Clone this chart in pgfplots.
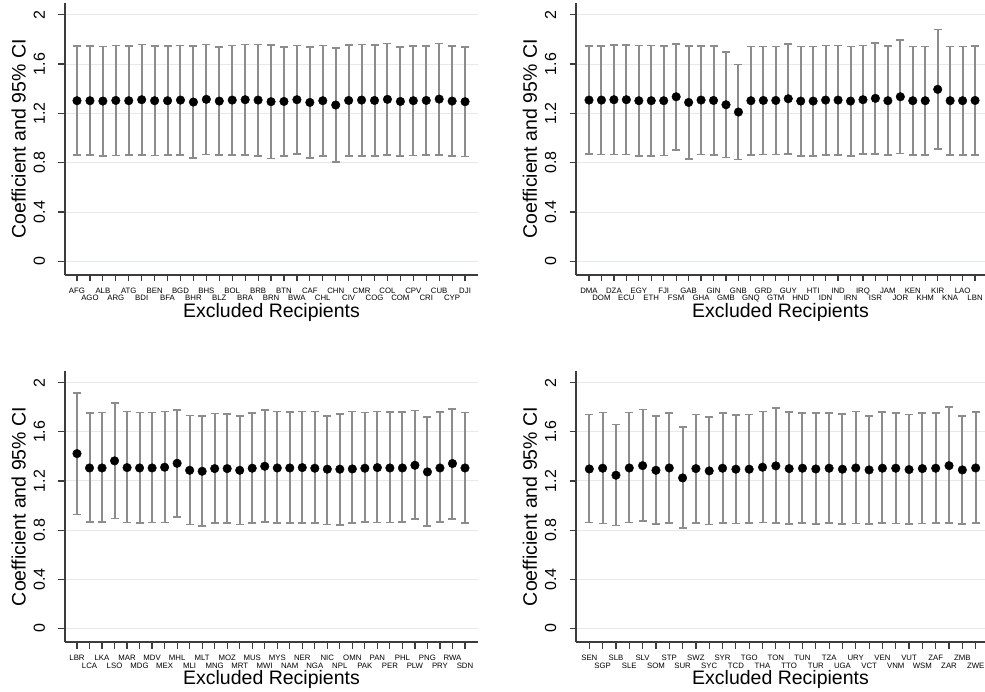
\documentclass[border=0pt]{standalone}
\usepackage{fontspec}
\setmainfont{Liberation Sans}
\usepackage{pgfplots}
\usepackage{pgfplotstable}
\pgfplotsset{compat=1.18}
\definecolor{gridc}{RGB}{226,234,237}
\definecolor{cic}{RGB}{140,140,140}
\definecolor{axc}{RGB}{60,60,60}
\newcommand\dn[1]{\raisebox{-7.7pt}{#1}}

\pgfplotstableread{
x y lo hi
1 1.303 0.862 1.744
2 1.303 0.862 1.744
3 1.300 0.857 1.743
4 1.305 0.859 1.751
5 1.303 0.862 1.744
6 1.311 0.862 1.760
7 1.303 0.859 1.747
8 1.303 0.862 1.744
9 1.308 0.865 1.751
10 1.292 0.840 1.744
11 1.314 0.868 1.760
12 1.300 0.862 1.738
13 1.308 0.865 1.751
14 1.311 0.862 1.760
15 1.308 0.857 1.759
16 1.295 0.835 1.755
17 1.297 0.854 1.740
18 1.311 0.870 1.752
19 1.289 0.840 1.738
20 1.303 0.854 1.752
21 1.268 0.808 1.728
22 1.305 0.857 1.753
23 1.308 0.857 1.759
24 1.305 0.857 1.753
25 1.314 0.862 1.766
26 1.297 0.857 1.737
27 1.303 0.859 1.747
28 1.305 0.862 1.748
29 1.316 0.865 1.767
30 1.300 0.854 1.746
31 1.295 0.851 1.739
}\tabA

\pgfplotstableread{
x y lo hi
1 1.308 0.870 1.746
2 1.308 0.868 1.748
3 1.311 0.868 1.754
4 1.311 0.868 1.754
5 1.303 0.857 1.749
6 1.303 0.857 1.749
7 1.303 0.859 1.747
8 1.335 0.905 1.765
9 1.289 0.832 1.746
10 1.308 0.868 1.748
11 1.305 0.865 1.745
12 1.270 0.843 1.697
13 1.211 0.827 1.595
14 1.303 0.865 1.741
15 1.305 0.868 1.742
16 1.305 0.868 1.742
17 1.319 0.873 1.765
18 1.300 0.857 1.743
19 1.300 0.857 1.743
20 1.308 0.865 1.751
21 1.308 0.865 1.751
22 1.300 0.857 1.743
23 1.311 0.873 1.749
24 1.322 0.873 1.771
25 1.303 0.862 1.744
26 1.335 0.876 1.794
27 1.303 0.865 1.741
28 1.303 0.865 1.741
29 1.395 0.911 1.879
30 1.303 0.865 1.741
31 1.303 0.865 1.741
32 1.305 0.865 1.745
}\tabB

\pgfplotstableread{
x y lo hi
1 1.423 0.928 1.918
2 1.306 0.866 1.755
3 1.306 0.866 1.758
4 1.364 0.896 1.834
5 1.309 0.863 1.764
6 1.306 0.860 1.758
7 1.306 0.863 1.758
8 1.312 0.863 1.766
9 1.344 0.906 1.780
10 1.287 0.847 1.734
11 1.279 0.836 1.731
12 1.301 0.857 1.750
13 1.301 0.857 1.747
14 1.287 0.847 1.728
15 1.304 0.857 1.755
16 1.320 0.868 1.780
17 1.306 0.860 1.766
18 1.306 0.860 1.761
19 1.309 0.860 1.764
20 1.304 0.860 1.764
21 1.296 0.847 1.731
22 1.296 0.844 1.744
23 1.298 0.860 1.764
24 1.304 0.866 1.758
25 1.309 0.863 1.764
26 1.306 0.863 1.761
27 1.306 0.866 1.761
28 1.328 0.893 1.774
29 1.274 0.836 1.720
30 1.306 0.866 1.761
31 1.342 0.893 1.788
32 1.306 0.860 1.758
}\tabC

\pgfplotstableread{
x y lo hi
1 1.298 0.863 1.742
2 1.304 0.855 1.758
3 1.247 0.838 1.660
4 1.306 0.863 1.758
5 1.325 0.874 1.783
6 1.287 0.852 1.731
7 1.306 0.860 1.753
8 1.225 0.819 1.638
9 1.301 0.857 1.742
10 1.282 0.847 1.723
11 1.304 0.857 1.753
12 1.296 0.855 1.739
13 1.296 0.857 1.742
14 1.312 0.863 1.764
15 1.323 0.857 1.793
16 1.301 0.852 1.761
17 1.304 0.857 1.755
18 1.298 0.852 1.753
19 1.304 0.857 1.753
20 1.296 0.852 1.747
21 1.306 0.855 1.764
22 1.290 0.852 1.731
23 1.304 0.857 1.761
24 1.304 0.855 1.755
25 1.293 0.852 1.742
26 1.301 0.855 1.753
27 1.304 0.857 1.755
28 1.325 0.857 1.804
29 1.290 0.852 1.731
30 1.306 0.857 1.761
}\tabD

\pgfplotsset{
  panel/.style={
    scale only axis, anchor=south west,
    axis lines*=left,
    axis line style={line width=1.2pt, color=axc, -},
    ymin=-0.11, ymax=2.095,
    ytick={0,0.4,0.8,1.2,1.6,2},
    yticklabels={0,0.4,0.8,1.2,1.6,2},
    ymajorgrids, grid style={gridc, line width=1pt},
    tick align=outside, major tick length=6.5pt,
    tick style={line width=1.2pt, color=axc},
    ylabel={Coefficient and 95\% CI},
    xlabel={Excluded Recipients},
    every axis y label/.style={at={(axis description cs:-0.0956,0.5)}, rotate=90, anchor=base,
      font=\fontsize{19.5}{22}\selectfont},
    every axis x label/.style={at={(axis description cs:0.5,-0.158)}, anchor=base,
      font=\fontsize{19.5}{22}\selectfont},
    yticklabel style={font=\fontsize{16}{18}\selectfont, xshift=-13.5pt, rotate=90, anchor=base},
    xticklabel style={font=\fontsize{7.8}{9}\selectfont, yshift=-11.8pt, anchor=base},
  },
  cis/.style={only marks, mark=none, forget plot,
    error bars/.cd, y dir=both, y explicit, error mark=|,
    error bar style={line width=2pt, color=cic},
    error mark options={line width=1.6pt, color=cic, mark size=4pt}},
  dots/.style={only marks, mark=*, mark size=4.3pt, mark options={fill=black, draw=black}},
}

\begin{document}
\begin{tikzpicture}[x=1pt,y=1pt]
\useasboundingbox (0,0) rectangle (985,691);

% top left
\begin{axis}[panel, at={(65pt,416pt)}, width=413pt, height=272pt,
  xmin=0.072, xmax=32.0, xtick={1,...,31},
  xticklabels={AFG,\dn{AGO},ALB,\dn{ARG},ATG,\dn{BDI},BEN,\dn{BFA},BGD,\dn{BHR},BHS,\dn{BLZ},BOL,\dn{BRA},BRB,\dn{BRN},BTN,\dn{BWA},CAF,\dn{CHL},CHN,\dn{CIV},CMR,\dn{COG},COL,\dn{COM},CPV,\dn{CRI},CUB,\dn{CYP},DJI}]
\addplot[cis] table[x=x, y=y, y error plus expr=\thisrow{hi}-\thisrow{y}, y error minus expr=\thisrow{y}-\thisrow{lo}] {\tabA};
\addplot[dots] table[x=x, y=y] {\tabA};
\end{axis}

% top right
\begin{axis}[panel, at={(576pt,416pt)}, width=409pt, height=272pt,
  xmin=-0.044, xmax=32.8, xtick={1,...,32},
  xticklabels={DMA,\dn{DOM},DZA,\dn{ECU},EGY,\dn{ETH},FJI,\dn{FSM},GAB,\dn{GHA},GIN,\dn{GMB},GNB,\dn{GNQ},GRD,\dn{GTM},GUY,\dn{HND},HTI,\dn{IDN},IND,\dn{IRN},IRQ,\dn{ISR},JAM,\dn{JOR},KEN,\dn{KHM},KIR,\dn{KNA},LAO,\dn{LBN}}]
\addplot[cis] table[x=x, y=y, y error plus expr=\thisrow{hi}-\thisrow{y}, y error minus expr=\thisrow{y}-\thisrow{lo}] {\tabB};
\addplot[dots] table[x=x, y=y] {\tabB};
\end{axis}

% bottom left
\begin{axis}[panel, at={(65pt,49pt)}, width=413pt, height=271pt,
  xmin=0.041, xmax=33.04, xtick={1,...,32},
  xticklabels={LBR,\dn{LCA},LKA,\dn{LSO},MAR,\dn{MDG},MDV,\dn{MEX},MHL,\dn{MLI},MLT,\dn{MNG},MOZ,\dn{MRT},MUS,\dn{MWI},MYS,\dn{NAM},NER,\dn{NGA},NIC,\dn{NPL},OMN,\dn{PAK},PAN,\dn{PER},PHL,\dn{PLW},PNG,\dn{PRY},RWA,\dn{SDN}}]
\addplot[cis] table[x=x, y=y, y error plus expr=\thisrow{hi}-\thisrow{y}, y error minus expr=\thisrow{y}-\thisrow{lo}] {\tabC};
\addplot[dots] table[x=x, y=y] {\tabC};
\end{axis}

% bottom right
\begin{axis}[panel, at={(576pt,49pt)}, width=409pt, height=271pt,
  xmin=0.0, xmax=30.7, xtick={1,...,30},
  xticklabels={SEN,\dn{SGP},SLB,\dn{SLE},SLV,\dn{SOM},STP,\dn{SUR},SWZ,\dn{SYC},SYR,\dn{TCD},TGO,\dn{THA},TON,\dn{TTO},TUN,\dn{TUR},TZA,\dn{UGA},URY,\dn{VCT},VEN,\dn{VNM},VUT,\dn{WSM},ZAF,\dn{ZAR},ZMB,\dn{ZWE}}]
\addplot[cis] table[x=x, y=y, y error plus expr=\thisrow{hi}-\thisrow{y}, y error minus expr=\thisrow{y}-\thisrow{lo}] {\tabD};
\addplot[dots] table[x=x, y=y] {\tabD};
\end{axis}
\end{tikzpicture}
\end{document}
